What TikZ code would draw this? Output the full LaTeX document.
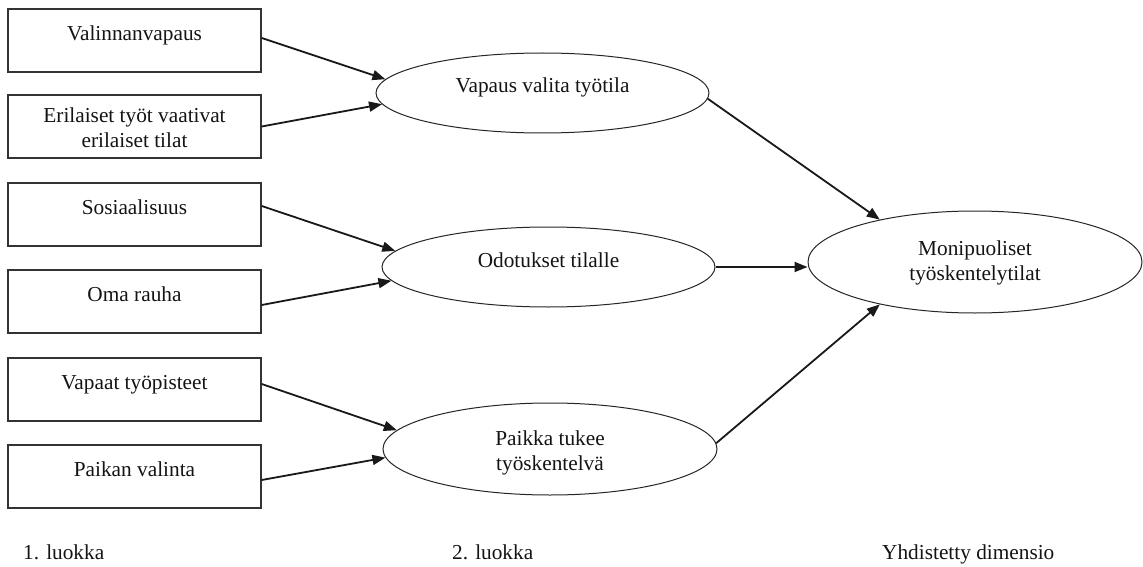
\documentclass[tikz,border=0pt]{standalone}
\usepackage{fontspec}
\setmainfont{Liberation Serif}
\usetikzlibrary{arrows.meta,shapes.geometric}
\begin{document}
\begin{tikzpicture}[x=1pt,y=-1pt,
  font=\fontsize{21.3}{25}\selectfont,
  factor/.style={rectangle, draw=black!80, line width=1.4pt, minimum width=253pt,
    minimum height=63pt, inner sep=0pt, text height=15pt, text depth=15pt, text=black!92},
  construct/.style={ellipse, draw=black!85, line width=1pt, inner sep=0pt,
    text height=15pt, text depth=15pt, text=black!92},
  link/.style={draw=black!90, line width=1.8pt, -{Triangle[length=13pt,width=10pt]}},
  caption/.style={anchor=base west, inner sep=0pt, text=black!92}]

% canvas
\fill[white] (0,0) rectangle (1143,567);
\useasboundingbox (0,0) rectangle (1143,567);

% first-level categories
\node[factor] (b1) at (134.5,40.5) {Valinnanvapaus};
\node[factor, text depth=22pt] (b2) at (134.5,126.5)
  {\begin{tabular}[t]{@{}c@{}}Erilaiset työt vaativat\\erilaiset tilat\end{tabular}};
\node[factor] (b3) at (134.5,214.5) {Sosiaalisuus};
\node[factor] (b4) at (134.5,301.5) {Oma rauha};
\node[factor] (b5) at (134.5,389.5) {Vapaat työpisteet};
\node[factor] (b6) at (134.5,476.5) {Paikan valinta};

% second-level categories
\node[construct, minimum width=333pt, minimum height=80pt] (e1) at (542.5,93)
  {Vapaus valita työtila};
\node[construct, minimum width=333pt, minimum height=80pt] (e2) at (548.5,267)
  {Odotukset tilalle};
\node[construct, minimum width=334pt, minimum height=92pt, text depth=23pt] (e3) at (550,449)
  {\begin{tabular}[t]{@{}c@{}}Paikka tukee\\työskentelvä\end{tabular}};

% combined dimension
\node[construct, minimum width=334pt, minimum height=102pt, text depth=29pt] (e4) at (975,262)
  {\begin{tabular}[t]{@{}c@{}}Monipuoliset\\työskentelytilat\end{tabular}};

% connectors
\draw[link] ([yshift=2.5pt]b1.east) -- (e1.175);
\draw[link] (b2.east) -- (e1.184);
\draw[link] ([yshift=8.5pt]b3.east) -- (e2.174);
\draw[link] ([yshift=-3.5pt]b4.east) -- (e2.185);
\draw[link] ([yshift=5.5pt]b5.east) -- (e3.173);
\draw[link] ([yshift=-3.5pt]b6.east) -- (e3.183);
\draw[link] (e1.358) -- (e4.156);
\draw[link] (e2.east) -- (e2.east -| e4.west);
\draw[link] (e3.2) -- (e4.204);

% column captions
\node[caption] (c1) at (23,559) {1. luokka};
\node[caption] (c2) at (452,559) {2. luokka};
\node[caption] (c3) at (882,559) {Yhdistetty dimensio};
\end{tikzpicture}
\end{document}
